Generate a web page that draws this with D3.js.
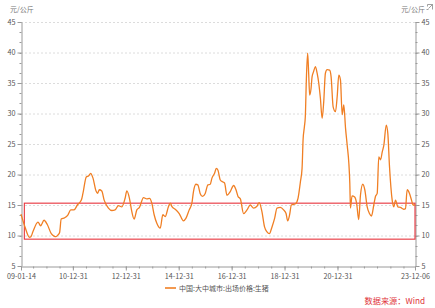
<!DOCTYPE html>
<html>
<head>
<meta charset="utf-8">
<script src="https://cdn.jsdelivr.net/npm/d3@7/dist/d3.min.js"></script>
<style>
  body { margin: 0; background: #fff; }
  svg text { font-family: "Noto Sans CJK SC", "Noto Sans", sans-serif; }
</style>
</head>
<body>
<div id="chart"></div>
<script>
(function () {
    'use strict';
    var width = 435;
    var height = 308;

    // 中国:大中城市:出场价格:生猪 (元/公斤)
    var dates = [
        '2009-01-14', '2009-03-10', '2009-05-11', '2009-05-31', '2009-06-27', '2009-09-05', '2009-10-12',
        '2009-11-28', '2010-01-12', '2010-03-08', '2010-04-15', '2010-05-12', '2010-06-09', '2010-07-01',
        '2010-07-23', '2010-09-09', '2010-10-25', '2010-12-02', '2011-01-16', '2011-03-03', '2011-04-27',
        '2011-05-19', '2011-07-04', '2011-08-07', '2011-09-03', '2011-10-05', '2011-11-16', '2011-12-06',
        '2012-01-01', '2012-02-03', '2012-03-07', '2012-05-05', '2012-06-21', '2012-08-05', '2012-09-20',
        '2012-11-06', '2012-12-21', '2013-01-14', '2013-02-19', '2013-03-24', '2013-04-25', '2013-06-01',
        '2013-07-07', '2013-09-01', '2013-10-17', '2013-11-23', '2013-12-25', '2014-01-26', '2014-03-04',
        '2014-04-20', '2014-05-26', '2014-06-27', '2014-08-11', '2014-09-04', '2014-10-02', '2014-11-13',
        '2015-01-07', '2015-03-07', '2015-04-09', '2015-05-25', '2015-07-01', '2015-07-23', '2015-08-25',
        '2015-09-21', '2015-10-23', '2015-11-24', '2016-01-01', '2016-02-07', '2016-03-10', '2016-04-03',
        '2016-05-09', '2016-06-02', '2016-06-25', '2016-07-27', '2016-08-27', '2016-09-24', '2016-10-27',
        '2016-12-12', '2017-01-27', '2017-03-01', '2017-03-29', '2017-04-30', '2017-06-14', '2017-07-31',
        '2017-09-14', '2017-10-30', '2017-12-15', '2018-01-16', '2018-02-22', '2018-03-30', '2018-05-03',
        '2018-06-04', '2018-07-11', '2018-08-16', '2018-09-18', '2018-11-03', '2018-12-18', '2019-01-21',
        '2019-02-12', '2019-03-11', '2019-04-04', '2019-05-30', '2019-07-05', '2019-08-07', '2019-08-30',
        '2019-09-13', '2019-10-01', '2019-10-14', '2019-10-28', '2019-11-15', '2019-11-29', '2019-12-13',
        '2020-01-01', '2020-01-15', '2020-02-06', '2020-03-01', '2020-03-25', '2020-04-16', '2020-05-09',
        '2020-06-02', '2020-06-24', '2020-07-17', '2020-08-10', '2020-09-14', '2020-10-04', '2020-11-01',
        '2020-12-03', '2020-12-27', '2021-01-18', '2021-02-10', '2021-03-06', '2021-03-28', '2021-04-21',
        '2021-05-14', '2021-06-06', '2021-06-19', '2021-06-28', '2021-07-20', '2021-08-25', '2021-09-22',
        '2021-10-20', '2021-11-13', '2021-12-15', '2022-01-12', '2022-02-14', '2022-03-17', '2022-04-14',
        '2022-05-16', '2022-06-08', '2022-07-02', '2022-07-24', '2022-08-17', '2022-09-10', '2022-10-02',
        '2022-11-04', '2022-11-26', '2022-12-19', '2023-01-25', '2023-02-16', '2023-03-12', '2023-04-13',
        '2023-05-19', '2023-07-04', '2023-07-27', '2023-08-20', '2023-09-21', '2023-10-19', '2023-11-10',
        '2023-12-06'
    ];
    var prices = [
        13.5, 11.4, 9.7, 9.8, 10.6, 12.2, 11.6,
        12.5, 11.8, 10.3, 9.9, 9.8, 10.1, 10.5,
        12.7, 12.9, 13.4, 14.2, 14.2, 15.0, 15.8,
        16.9, 19.6, 19.8, 20.2, 19.4, 17.3, 16.9,
        17.5, 17.3, 15.8, 14.5, 14.1, 14.2, 14.9,
        14.7, 16.1, 17.3, 16.1, 13.9, 12.7, 14.2,
        14.6, 16.2, 16.0, 16.1, 15.3, 13.4, 12.0,
        11.2, 13.4, 13.1, 14.7, 15.3, 14.7, 14.3,
        13.6, 12.4, 12.8, 14.2, 15.3, 17.2, 18.4,
        18.3, 16.9, 16.4, 16.9, 18.3, 18.4, 19.4,
        20.2, 21.0, 20.7, 19.1, 18.8, 18.6, 16.6,
        17.2, 18.2, 17.5, 16.4, 16.0, 13.6, 14.2,
        15.0, 14.5, 14.8, 15.4, 13.9, 11.4, 10.6,
        10.3, 11.4, 12.8, 14.5, 14.6, 14.2, 13.6,
        12.4, 13.4, 15.0, 15.2, 16.1, 18.8, 21.0,
        25.7, 27.8, 29.5, 35.5, 39.9, 36.6, 33.0,
        34.1, 36.0, 36.9, 37.7, 36.6, 35.0, 32.5,
        29.2, 31.9, 36.6, 37.2, 37.1, 36.0, 31.1,
        30.3, 32.8, 36.3, 35.5, 29.8, 31.4, 27.6,
        24.8, 21.8, 18.6, 14.5, 16.5, 16.3, 15.2,
        12.6, 16.6, 18.4, 17.5, 14.7, 13.6, 13.2,
        15.0, 16.4, 16.9, 22.9, 22.4, 23.7, 24.8,
        28.1, 26.7, 21.3, 15.8, 14.7, 15.8, 14.7,
        14.6, 14.3, 14.4, 17.5, 16.9, 15.8, 15.0,
        15.0
    ];

    var yTicks = [5, 10, 15, 20, 25, 30, 35, 40, 45];
    var xLabelDates = ['2009-01-14', '2010-12-31', '2012-12-31', '2014-12-31', '2016-12-31',
        '2018-12-31', '2020-12-31', '2023-12-06'];
    // red box marking the 9.4 - 15.3 band
    var bandLow = 9.4;
    var bandHigh = 15.3;
    var bandStart = '2009-03-01';

    var seriesName = '中国:大中城市:出场价格:生猪';
    var unit = '元/公斤';
    var source = '数据来源：Wind';

    var parse = d3.timeParse('%Y-%m-%d');
    var data = dates.map(function (d, i) {
        return { date: parse(d), value: prices[i] };
    });

    var left = 21, right = 415, top = 22, bottom = 266;
    var x = d3.scaleTime()
        .domain([parse(dates[0]), parse(dates[dates.length - 1])])
        .range([left, right]);
    var y = d3.scaleLinear().domain([5, 45]).range([bottom, top]);

    var svg = d3.select('#chart')
        .append('svg')
        .attr('width', width)
        .attr('height', height);

    // grid lines
    svg.append('g')
        .selectAll('line')
        .data(yTicks.slice(1))
        .enter()
        .append('line')
        .attr('x1', left)
        .attr('x2', right)
        .attr('y1', function (d) { return y(d) + 0.5; })
        .attr('y2', function (d) { return y(d) + 0.5; })
        .attr('stroke', '#dcdcdc')
        .attr('stroke-dasharray', '2,2');

    // minor y ticks (three per step)
    var minor = d3.range(5, 45.01, 5 / 3);

    function styleAxis(g) {
        g.select('.domain').attr('stroke', '#9a9a9a');
        g.selectAll('.tick line').attr('stroke', '#9a9a9a');
        g.selectAll('.tick text').attr('fill', '#555').style('font-size', '7.2px');
    }

    var yLeft = svg.append('g')
        .attr('transform', 'translate(' + (left + 0.5) + ',0)')
        .call(d3.axisLeft(y).tickValues(yTicks).tickSize(4).tickPadding(2).tickSizeOuter(0));
    styleAxis(yLeft);
    yLeft.selectAll('.tick text').attr('dy', '0.3em');
    yLeft.append('g').selectAll('line').data(minor).enter().append('line')
        .attr('x1', -2).attr('x2', 0)
        .attr('y1', function (d) { return Math.round(y(d)) + 0.5; })
        .attr('y2', function (d) { return Math.round(y(d)) + 0.5; })
        .attr('stroke', '#9a9a9a');

    var yRight = svg.append('g')
        .attr('transform', 'translate(' + (right + 0.5) + ',0)')
        .call(d3.axisRight(y).tickValues(yTicks).tickSize(4).tickPadding(2).tickSizeOuter(0));
    styleAxis(yRight);
    yRight.selectAll('.tick text').attr('dy', '0.3em');
    yRight.append('g').selectAll('line').data(minor).enter().append('line')
        .attr('x1', 0).attr('x2', 2)
        .attr('y1', function (d) { return Math.round(y(d)) + 0.5; })
        .attr('y2', function (d) { return Math.round(y(d)) + 0.5; })
        .attr('stroke', '#9a9a9a');

    // x axis: half-year minor ticks, labels every two years
    var halfYears = d3.timeMonths(new Date(2009, 5, 1), new Date(2023, 11, 1), 6).map(function (d) {
        return d3.timeDay.offset(d3.timeMonth.offset(d, 1), -1);
    });
    var xAxisG = svg.append('g').attr('transform', 'translate(0,' + (bottom + 0.5) + ')');
    xAxisG.call(d3.axisBottom(x).tickValues(halfYears).tickSize(2).tickFormat('').tickSizeOuter(0));
    styleAxis(xAxisG);
    var xLabels = svg.append('g').attr('transform', 'translate(0,' + (bottom + 0.5) + ')')
        .call(d3.axisBottom(x).tickValues(xLabelDates.map(parse))
            .tickFormat(d3.timeFormat('%y-%m-%d')).tickSize(4).tickPadding(3).tickSizeOuter(0));
    styleAxis(xLabels);
    xLabels.select('.domain').remove();

    // red band box
    svg.append('rect')
        .attr('x', x(parse(bandStart)))
        .attr('y', y(bandHigh))
        .attr('width', right - x(parse(bandStart)))
        .attr('height', y(bandLow) - y(bandHigh))
        .attr('fill', 'none')
        .attr('stroke', '#e8333c')
        .attr('stroke-width', 1.1);

    // price line
    var line = d3.line()
        .x(function (d) { return x(d.date); })
        .y(function (d) { return y(d.value); })
        .curve(d3.curveMonotoneX);
    svg.append('path')
        .datum(data)
        .attr('d', line)
        .attr('fill', 'none')
        .attr('stroke', '#f07f24')
        .attr('stroke-width', 1.3)
        .attr('stroke-linejoin', 'round');

    // units
    svg.append('text').attr('x', 10).attr('y', 12)
        .attr('fill', '#777').style('font-size', '7px').text(unit);
    svg.append('text').attr('x', 425).attr('y', 12).attr('text-anchor', 'end')
        .attr('fill', '#777').style('font-size', '7px').text(unit);
    // small expand icon, top right
    svg.append('path')
        .attr('d', 'M427.5,4.5 h5 v5 M427.5,4.5 v2 M432.5,4.5 l-4,4 M426.5,9.5 h2')
        .attr('fill', 'none').attr('stroke', '#888').attr('stroke-width', 0.8);

    // legend
    var legend = svg.append('g').attr('transform', 'translate(165,288)');
    legend.append('line').attr('x1', 0).attr('x2', 11)
        .attr('stroke', '#f07f24').attr('stroke-width', 1.6);
    legend.append('text').attr('x', 14).attr('y', 2.5)
        .attr('fill', '#555').style('font-size', '7px').text(seriesName);

    // source
    svg.append('text').attr('x', 425).attr('y', 304).attr('text-anchor', 'end')
        .attr('fill', '#e0333a').style('font-size', '8.2px').text(source);
}());
</script>
</body>
</html>
